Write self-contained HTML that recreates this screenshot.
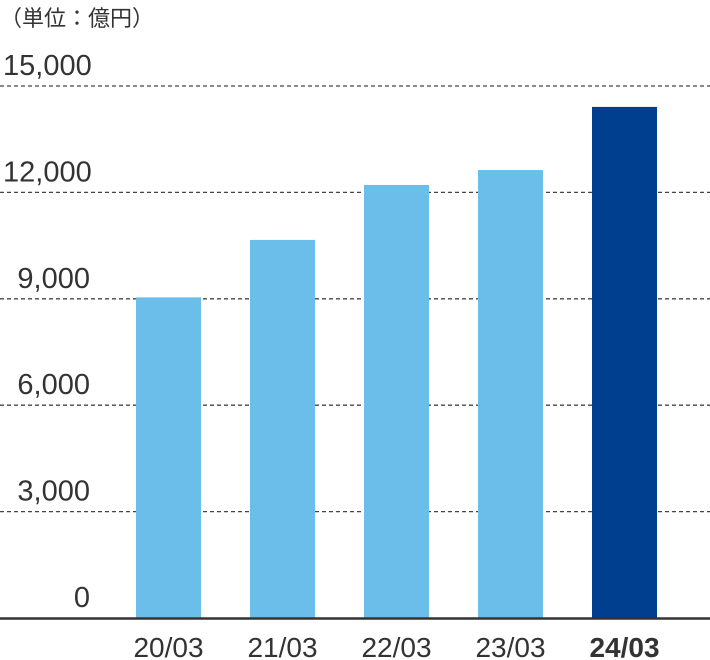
<!DOCTYPE html>
<html><head><meta charset="utf-8"><style>
body{margin:0;background:#fff}
svg{display:block;font-family:"Liberation Sans","Noto Sans CJK JP",sans-serif}
</style></head><body>
<svg id="chart" width="710" height="660">
<text x="0" y="26" font-size="22" fill="#333">（単位：億円）</text>
<g id="grid"></g><g id="bars"></g><g id="xl"></g>
<line x1="0" y1="618.5" x2="710" y2="618.5" stroke="#333" stroke-width="2.5"/>
</svg>
<script>
const categories=["20/03","21/03","22/03","23/03","24/03"];
const values=[9040,10660,12210,12630,14410];
const ticks=[0,3000,6000,9000,12000,15000];
const tickLabels=["0","3,000","6,000","9,000","12,000","15,000"];
const NS="http://www.w3.org/2000/svg";
const y=v=>618-v*(532/15000);
const x=i=>136+i*114;
const g=document.getElementById('grid'),b=document.getElementById('bars'),xl=document.getElementById('xl');
function mk(t,a){const e=document.createElementNS(NS,t);for(const k in a)e.setAttribute(k,a[k]);return e;}
ticks.forEach((t,i)=>{
  if(t>0){const l=mk('line',{x1:0,x2:710,y1:y(t),y2:y(t),stroke:'#444','stroke-width':1.3,'stroke-dasharray':'4 3'});
  
  
  g.appendChild(l);}
  const lab=tickLabels[i];
  const tx=mk('text',{y:y(t)-11,'font-size':29,fill:'#333'});
  if(lab.length>=6){tx.setAttribute('x',3);}else{tx.setAttribute('x',90);tx.setAttribute('text-anchor','end');}
  tx.textContent=lab;
  
  
  g.appendChild(tx);
});
categories.forEach((c,i)=>{
  const last=i===categories.length-1;
  const r=mk('rect',{x:x(i),y:y(values[i]),width:65,height:618-y(values[i]),fill:last?'#003e8f':'#6bbdea'});
  
  
  b.appendChild(r);
  const t=mk('text',{x:x(i)+32.5,y:657,'text-anchor':'middle','font-size':28,fill:'#333','font-weight':last?'bold':'normal'});
  t.textContent=c;
  
  
  xl.appendChild(t);
});
</script>
</body></html>
